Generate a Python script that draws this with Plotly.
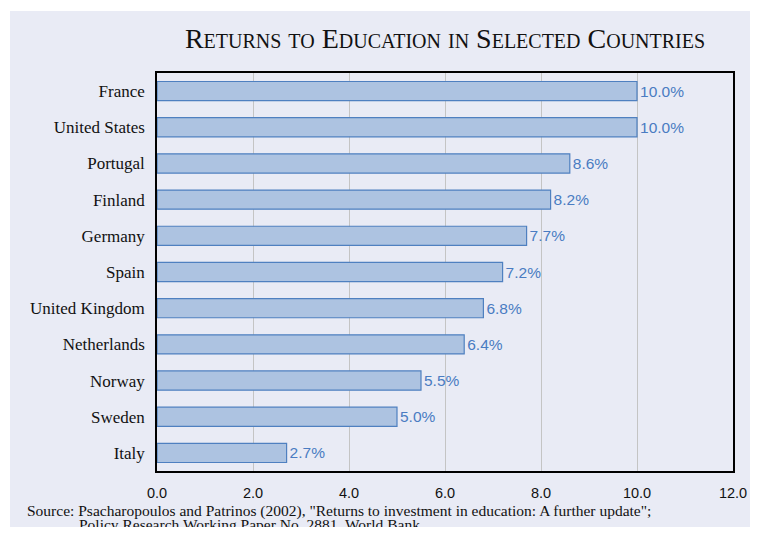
import plotly.graph_objects as go

countries = ["France", "United States", "Portugal", "Finland", "Germany", "Spain",
             "United Kingdom", "Netherlands", "Norway", "Sweden", "Italy"]
returns = [10.0, 10.0, 8.6, 8.2, 7.7, 7.2, 6.8, 6.4, 5.5, 5.0, 2.7]
tick_vals = [0, 2, 4, 6, 8, 10, 12]
tick_text = ["0.0", "2.0", "4.0", "6.0", "8.0", "10.0", "12.0"]
title_text = "Returns to Education in Selected Countries"
source_line1 = 'Source: Psacharopoulos and Patrinos (2002), "Returns to investment in education: A further update";'
source_line2 = 'Policy Research Working Paper No. 2881, World Bank'

# The page body has an 8px margin, so the figure is drawn at (8, 8) in the window.
OFF = 8
W, H = 758 - 2 * OFF, 535 - 2 * OFF
ML, MR, MT, MB = 157 - OFF, 758 - 733 - OFF, 73 - OFF, 535 - 471 - OFF
PW, PH = W - ML - MR, H - MT - MB


def px_x(page_px):
    return (page_px - OFF - ML) / PW


def px_y(page_py):
    return 1 - (page_py - OFF - MT) / PH


fig = go.Figure(go.Bar(
    x=returns,
    y=countries,
    orientation="h",
    marker=dict(color="#adc3e1", line=dict(color="#4f80c0", width=1.2)),
    text=[f"{v:.1f}%" for v in returns],
    textposition="outside",
    cliponaxis=False,
    textfont=dict(family="Liberation Sans, Arial, sans-serif", size=15.5, color="#4a7cc2"),
    width=0.53,
))

fig.update_layout(
    width=W, height=H,
    margin=dict(l=ML, r=MR, t=MT, b=MB, pad=0, autoexpand=False),
    paper_bgcolor="white",
    plot_bgcolor="white",
    showlegend=False,
    title=dict(
        text=title_text,
        x=px_x(445), xanchor="center", xref="paper",
        y=1 - (38.5 - OFF) / H, yanchor="middle",
        font=dict(family="Liberation Serif, Times New Roman, serif", size=28,
                  color="#111111", variant="small-caps"),
    ),
    xaxis=dict(
        range=[0, 12],
        tickvals=tick_vals, ticktext=tick_text,
        showgrid=True, gridcolor="#c4c4c4", gridwidth=1.2,
        zeroline=False, automargin=False,
        showline=True, linecolor="black", linewidth=1.5, mirror=True,
        ticks="", ticklabelstandoff=8,
        tickfont=dict(family="Liberation Sans, Arial, sans-serif", size=14.5, color="#111111"),
        fixedrange=True,
    ),
    yaxis=dict(
        categoryorder="array", categoryarray=countries[::-1],
        showline=True, linecolor="black", linewidth=1.5, mirror=True,
        showgrid=False, ticks="", ticklabelstandoff=7, automargin=False,
        tickfont=dict(family="Liberation Serif, Times New Roman, serif", size=17, color="#111111"),
        fixedrange=True,
    ),
    shapes=[dict(
        type="rect", xref="paper", yref="paper", layer="below",
        x0=px_x(10), x1=px_x(760), y0=px_y(545), y1=px_y(11),
        fillcolor="#e9ebf5", line=dict(width=0),
    )],
    annotations=[
        dict(
            text=source_line1, xref="paper", yref="paper",
            x=px_x(25), y=px_y(511), xanchor="left", yanchor="middle",
            showarrow=False, align="left",
            font=dict(family="Liberation Serif, Times New Roman, serif", size=15.5, color="#111111"),
        ),
        dict(
            text=source_line2, xref="paper", yref="paper",
            x=px_x(77), y=px_y(524), xanchor="left", yanchor="middle",
            showarrow=False, align="left",
            font=dict(family="Liberation Serif, Times New Roman, serif", size=15.5, color="#111111"),
        ),
    ],
)

fig.write_html("out.html")
